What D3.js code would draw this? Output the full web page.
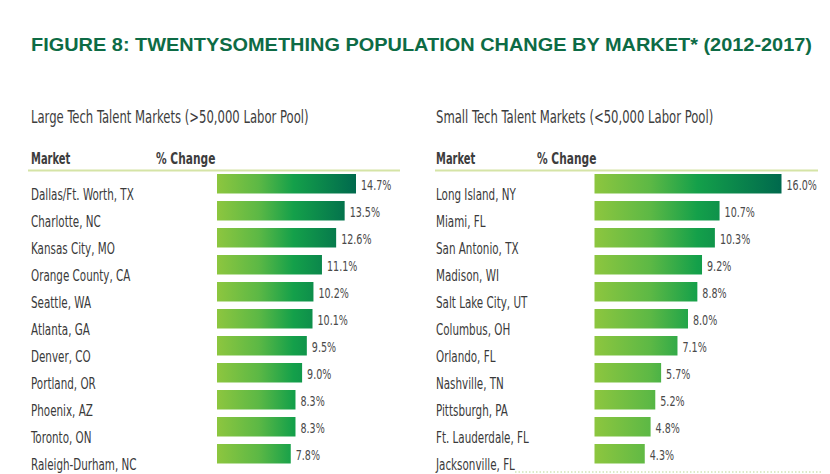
<!DOCTYPE html>
<html>
<head>
<meta charset="utf-8">
<script src="https://cdn.jsdelivr.net/npm/d3@7"></script>
<style>
  html, body { margin: 0; padding: 0; background: #fff; }
  svg { display: block; }
</style>
</head>
<body>
<svg id="chart" width="830" height="474"></svg>
<script>
// ---- Data ----
const titleText = "FIGURE 8: TWENTYSOMETHING POPULATION CHANGE BY MARKET* (2012-2017)";
const largeTitle = "Large Tech Talent Markets (>50,000 Labor Pool)";
const smallTitle = "Small Tech Talent Markets (<50,000 Labor Pool)";
const colHeaders = ["Market", "% Change"];

const largeMarkets = ["Dallas/Ft. Worth, TX", "Charlotte, NC", "Kansas City, MO", "Orange County, CA",
  "Seattle, WA", "Atlanta, GA", "Denver, CO", "Portland, OR", "Phoenix, AZ", "Toronto, ON", "Raleigh-Durham, NC"];
const largeValues = [14.7, 13.5, 12.6, 11.1, 10.2, 10.1, 9.5, 9.0, 8.3, 8.3, 7.8];

const smallMarkets = ["Long Island, NY", "Miami, FL", "San Antonio, TX", "Madison, WI", "Salt Lake City, UT",
  "Columbus, OH", "Orlando, FL", "Nashville, TN", "Pittsburgh, PA", "Ft. Lauderdale, FL", "Jacksonville, FL"];
const smallValues = [16.0, 10.7, 10.3, 9.2, 8.8, 8.0, 7.1, 5.7, 5.2, 4.8, 4.3];

// ---- Drawing ----
const svg = d3.select("#chart");
const FONT = "'DejaVu Sans Condensed', 'Liberation Sans Narrow', 'Liberation Sans', sans-serif";
const defs = svg.append("defs");

function condText(g, x, y, txt, size, opts = {}) {
  return g.append("text")
    .attr("transform", `translate(${x},${y}) scale(${opts.sx || 0.72},1)`)
    .attr("font-family", FONT)
    .attr("font-size", size)
    .attr("font-weight", opts.weight || "normal")
    .attr("fill", opts.fill || "#3a3a3a")
    .attr("text-anchor", opts.anchor || "start")
    .text(txt);
}

// Title
svg.append("text")
  .attr("x", 31).attr("y", 51)
  .attr("font-family", "'Liberation Sans', Arial, sans-serif")
  .attr("font-weight", "bold")
  .attr("font-size", 17.5)
  .attr("fill", "#0d6b45")
  .attr("textLength", 781)
  .attr("lengthAdjust", "spacingAndGlyphs")
  .text(titleText);

function panel(cfg) {
  const g = svg.append("g");
  condText(g, cfg.labelX, 123, cfg.title, 17.5, { fill: "#3d3d3d", sx: 0.74 });
  condText(g, cfg.labelX, 164, colHeaders[0], 16, { fill: "#3d3d3d", weight: "bold", sx: 0.69 });
  condText(g, cfg.changeX, 164, colHeaders[1], 16, { fill: "#3d3d3d", weight: "bold", sx: 0.74 });

  g.append("line")
    .attr("x1", cfg.lineX0).attr("x2", cfg.lineX1)
    .attr("y1", 170.5).attr("y2", 170.5)
    .attr("stroke", "#d5e4a6").attr("stroke-width", 2);

  const x = d3.scaleLinear().domain([0, d3.max(cfg.values)]).range([cfg.barX0, cfg.barX1]);
  const y = d3.scaleBand().domain(cfg.markets).range([174, 463.5]).paddingInner(0.278).paddingOuter(0);

  const gid = "grad-" + cfg.id;
  const grad = defs.append("linearGradient")
    .attr("id", gid).attr("gradientUnits", "userSpaceOnUse")
    .attr("x1", x(0)).attr("x2", x(d3.max(cfg.values))).attr("y1", 0).attr("y2", 0);
  [[0, "#8dc63f"], [0.3, "#5cb845"], [0.55, "#14a04a"], [1, "#00694d"]].forEach(([o, c]) =>
    grad.append("stop").attr("offset", o).attr("stop-color", c));

  const data = cfg.markets.map((m, i) => ({ m, v: cfg.values[i] }));

  g.selectAll("rect.bar").data(data).join("rect")
    .attr("class", "bar")
    .attr("x", x(0))
    .attr("y", d => y(d.m))
    .attr("width", d => x(d.v) - x(0))
    .attr("height", y.bandwidth())
    .attr("fill", `url(#${gid})`);

  data.forEach(d => {
    condText(g, cfg.labelX, y(d.m) + 26, d.m, 16, { fill: "#3a3a3a", sx: 0.72 });
    condText(g, x(d.v) + 5, y(d.m) + 16, d.v.toFixed(1) + "%", 14, { fill: "#4a4a4a", sx: 0.76 });
  });
  return g;
}

panel({ id: "large", title: largeTitle, markets: largeMarkets, values: largeValues,
  labelX: 31, changeX: 156, lineX0: 28, lineX1: 400, barX0: 217, barX1: 356 });
const right = panel({ id: "small", title: smallTitle, markets: smallMarkets, values: smallValues,
  labelX: 436, changeX: 537, lineX0: 435, lineX1: 818, barX0: 594.5, barX1: 781.5 });

right.append("line")
  .attr("x1", 515).attr("x2", 822).attr("y1", 472).attr("y2", 472)
  .attr("stroke", "#b9d88f").attr("stroke-width", 1.2).attr("stroke-dasharray", "1.5,2");
</script>
</body>
</html>
